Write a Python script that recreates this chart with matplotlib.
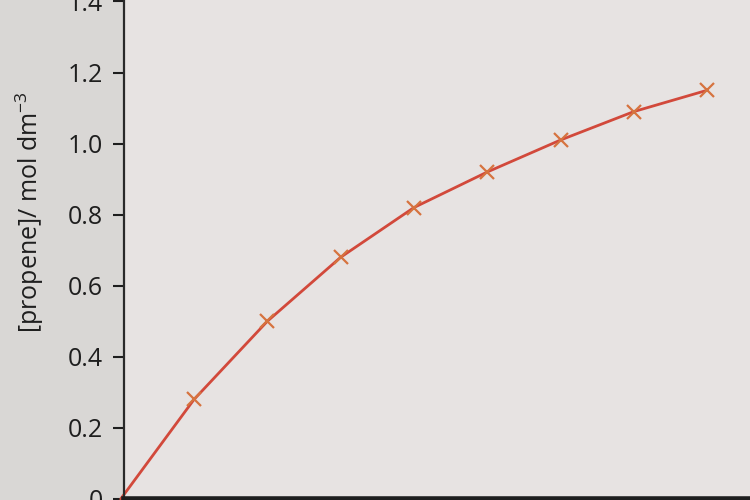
import matplotlib
matplotlib.use("Agg")
import matplotlib.pyplot as plt

# data
time_points = [0, 1, 2, 3, 4, 5, 6, 7, 8]
propene = [0.0, 0.28, 0.50, 0.68, 0.82, 0.92, 1.01, 1.09, 1.15]
marker_time = time_points[1:]
marker_propene = propene[1:]
ytick_values = [0, 0.2, 0.4, 0.6, 0.8, 1.0, 1.2, 1.4]
ytick_labels = ["0", "0.2", "0.4", "0.6", "0.8", "1.0", "1.2", "1.4"]

plt.rcParams['font.family'] = ['Open Sans', 'DejaVu Sans']
plt.rcParams['mathtext.fontset'] = 'custom'
plt.rcParams['mathtext.rm'] = 'Open Sans'
plt.rcParams['mathtext.it'] = 'Open Sans:italic'

fig = plt.figure(figsize=(7.5, 5), dpi=100, facecolor='#d9d7d5')
ax = fig.add_axes([124/750, 0.002, 626/750, 0.998])
ax.set_facecolor('#e7e3e2')

ax.plot(time_points, propene, color='#d2493b', lw=2.0, solid_capstyle='round',
        clip_on=False)
ax.plot(marker_time, marker_propene, linestyle='none', marker='x',
        markersize=10, markeredgewidth=1.6, color='#d6733f')

ax.set_xlim(0.045, 8.585)
ax.set_ylim(0, 1.404)
ax.set_yticks(ytick_values)
ax.set_yticklabels(ytick_labels)
ax.set_xticks([])
ax.tick_params(axis='y', direction='out', length=8, width=1.5, pad=7,
               labelsize=18, colors='#1e1e1e')
for s in ['top', 'right']:
    ax.spines[s].set_visible(False)
ax.spines['left'].set_linewidth(1.6)
ax.spines['left'].set_color('#2a2a2a')
ax.spines['bottom'].set_linewidth(4)
ax.spines['bottom'].set_color('#1e1e1e')

ax.set_ylabel("[propene]/ mol dm$^{-3}$", fontsize=18, color='#1e1e1e')
ax.yaxis.set_label_coords(-0.125, 0.575)

fig.savefig("out.png", dpi=100, facecolor=fig.get_facecolor())
